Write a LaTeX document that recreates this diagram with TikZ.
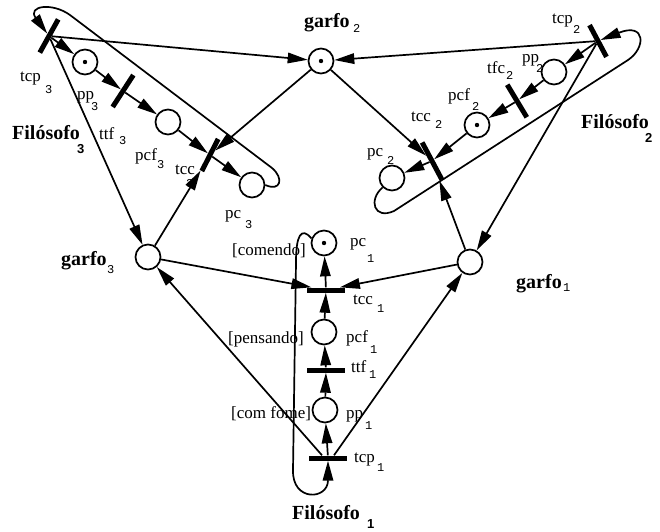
\documentclass[tikz,border=0pt]{standalone}
\usepackage{fontspec}
\setmainfont{Liberation Serif}
\newfontfamily\subfnt{Liberation Mono}
\newfontfamily\subbold{Liberation Sans}
\usetikzlibrary{arrows.meta}
\tikzset{
	place/.style={circle, draw, line width=1.7pt, minimum size=25pt, inner sep=0pt},
	trans/.style={rectangle, fill=black, minimum width=38pt, minimum height=5pt, inner sep=0pt},
	arc/.style={line width=1.7pt, -{Triangle[length=20pt,width=10.5pt]}},
	lbl/.style={anchor=base west, inner sep=0pt, font=\fontsize{17}{20}\selectfont},
	blbl/.style={anchor=base west, inner sep=0pt, font=\fontsize{20}{24}\selectfont\bfseries},
	idx/.style={anchor=base west, inner sep=0pt, font=\subfnt\fontsize{12}{14}\selectfont},
	bidx/.style={anchor=base west, inner sep=0pt, font=\subbold\fontsize{13}{15}\selectfont\bfseries}
}
\begin{document}
\begin{tikzpicture}[x=1pt, y=-1pt]
	\useasboundingbox (0,0) rectangle (660,531);
	\node[place] (garfo2) at (321,61) {};
	\node[place] (garfo3) at (148,257) {};
	\node[place] (garfo1) at (470,262) {};
	\node[place] (pp3) at (85,62) {};
	\node[place] (pcf3) at (168,122) {};
	\node[place] (pc3) at (252,185) {};
	\node[place] (pp2) at (554,72) {};
	\node[place] (pcf2) at (477,125) {};
	\node[place] (pc2) at (392,178) {};
	\node[place] (pc1) at (324,243) {};
	\node[place] (pcf1) at (324,332) {};
	\node[place] (pp1) at (325,410) {};
	\node[trans, rotate=61] (tcp3) at (49,36) {};
	\node[trans, rotate=57] (ttf3) at (123,91) {};
	\node[trans, rotate=63, minimum width=36pt] (tcc3) at (210,155) {};
	\node[trans, rotate=-62, minimum width=36pt] (tcp2) at (598,41) {};
	\node[trans, rotate=-59] (tfc2) at (517,101) {};
	\node[trans, rotate=-62, minimum width=42pt] (tcc2) at (432,161) {};
	\node[trans] (tcc1) at (326,290) {};
	\node[trans] (ttf1) at (326,370) {};
	\node[trans] (tcp1) at (328,458) {};
	\fill (garfo2) circle (2.2pt);
	\fill (pp3) circle (2.2pt);
	\fill (pcf2) circle (2.2pt);
	\fill (pc1) circle (2.2pt);
	\draw[arc] (tcp3) -- (pp3);
	\draw[arc] (pp3) -- (ttf3);
	\draw[arc] (ttf3) -- (pcf3);
	\draw[arc] (pcf3) -- (tcc3);
	\draw[arc] (tcc3) -- (pc3);
	\draw[arc] (garfo2) -- (tcc3);
	\draw[arc] (garfo3) -- (tcc3);
	\draw[arc] (tcp3) -- (garfo2);
	\draw[arc] (tcp3) -- (garfo3);
	\draw[arc] (pc3.east) .. controls (281,192) and (284,178) .. (272,168) -- (70,15) .. controls (52,2) and (27,6) .. (tcp3);
	\draw[arc] (tcp2) -- (pp2);
	\draw[arc] (pp2) -- (tfc2);
	\draw[arc] (tfc2) -- (pcf2);
	\draw[arc] (pcf2) -- (tcc2);
	\draw[arc] (tcc2) -- (pc2);
	\draw[arc] (garfo2) -- (tcc2);
	\draw[arc] (garfo1) -- (tcc2);
	\draw[arc] (tcp2) -- (garfo2);
	\draw[arc] (tcp2) -- (garfo1);
	\draw[arc] (pc2.225) .. controls (368,200) and (374,220) .. (394,211) -- (628,60) .. controls (646,48) and (646,22) .. (tcp2);
	\draw[arc] (tcp1) -- (pp1);
	\draw[arc] (pp1) -- (ttf1);
	\draw[arc] (ttf1) -- (pcf1);
	\draw[arc] (pcf1) -- (tcc1);
	\draw[arc] (tcc1) -- (pc1);
	\draw[arc] (garfo3) -- (tcc1);
	\draw[arc] (garfo1) -- (tcc1);
	\draw[arc] ([xshift=-6pt]tcp1.north) -- (garfo3);
	\draw[arc] ([xshift=6pt]tcp1.north) -- (garfo1);
	\draw[arc] (pc1.160) .. controls (301,226) and (296,236) .. (296,262) -- (293,470) .. controls (292,502) and (328,500) .. (tcp1.south);
	\node[blbl] (garfo2-l) at (304,27) {garfo};
	\node[idx] (garfo2-i) at (353,32) {2};
	\node[blbl] (garfo3-l) at (61,265) {garfo};
	\node[idx] (garfo3-i) at (107,273) {3};
	\node[blbl] (garfo1-l) at (516,288) {garfo};
	\node[idx] (garfo1-i) at (563,291) {1};
	\node[blbl] (filo3-l) at (12,139) {Filósofo};
	\node[bidx] (filo3-i) at (77,153) {3};
	\node[blbl] (filo2-l) at (581,128) {Filósofo};
	\node[bidx] (filo2-i) at (645,142) {2};
	\node[blbl] (filo1-l) at (292,519) {Filósofo};
	\node[bidx] (filo1-i) at (367,528) {1};
	\node[lbl] (tcp3-l) at (20,81) {tcp};
	\node[idx] (tcp3-i) at (45,93) {3};
	\node[lbl] (pp3-l) at (77,99) {pp};
	\node[idx] (pp3-i) at (91,110) {3};
	\node[lbl] (ttf3-l) at (99,139) {ttf};
	\node[idx] (ttf3-i) at (119,144) {3};
	\node[lbl] (pcf3-l) at (135,160) {pcf};
	\node[idx] (pcf3-i) at (157,168) {3};
	\node[lbl] (tcc3-l) at (175,174) {tcc};
	\node[idx] (tcc3-i) at (186,187) {3};
	\node[lbl] (pc3-l) at (225,218) {pc};
	\node[idx] (pc3-i) at (245,228) {3};
	\node[lbl] (tcp2-l) at (552,23) {tcp};
	\node[idx] (tcp2-i) at (573,33) {2};
	\node[lbl] (pp2-l) at (522,62) {pp};
	\node[idx] (pp2-i) at (536,72) {2};
	\node[lbl] (tfc2-l) at (487,73) {tfc};
	\node[idx] (tfc2-i) at (506,79) {2};
	\node[lbl] (pcf2-l) at (448,100) {pcf};
	\node[idx] (pcf2-i) at (472,110) {2};
	\node[lbl] (tcc2-l) at (411,121) {tcc};
	\node[idx] (tcc2-i) at (435,128) {2};
	\node[lbl] (pc2-l) at (367,156) {pc};
	\node[idx] (pc2-i) at (387,164) {2};
	\node[lbl] (pc1-l) at (350,246) {pc};
	\node[idx] (pc1-i) at (367,262) {1};
	\node[lbl] (tcc1-l) at (353,304) {tcc};
	\node[idx] (tcc1-i) at (377,312) {1};
	\node[lbl] (pcf1-l) at (346,342) {pcf};
	\node[idx] (pcf1-i) at (370,353) {1};
	\node[lbl] (ttf1-l) at (351,372) {ttf};
	\node[idx] (ttf1-i) at (369,378) {1};
	\node[lbl] (pp1-l) at (346,418) {pp};
	\node[idx] (pp1-i) at (365,429) {1};
	\node[lbl] (tcp1-l) at (354,462) {tcp};
	\node[idx] (tcp1-i) at (377,471) {1};
	\node[lbl] (comendo) at (232,255) {[comendo]};
	\node[lbl] (pensando) at (228,343) {[pensando]};
	\node[lbl] (comfome) at (231,418) {[com fome]};
\end{tikzpicture}
\end{document}
